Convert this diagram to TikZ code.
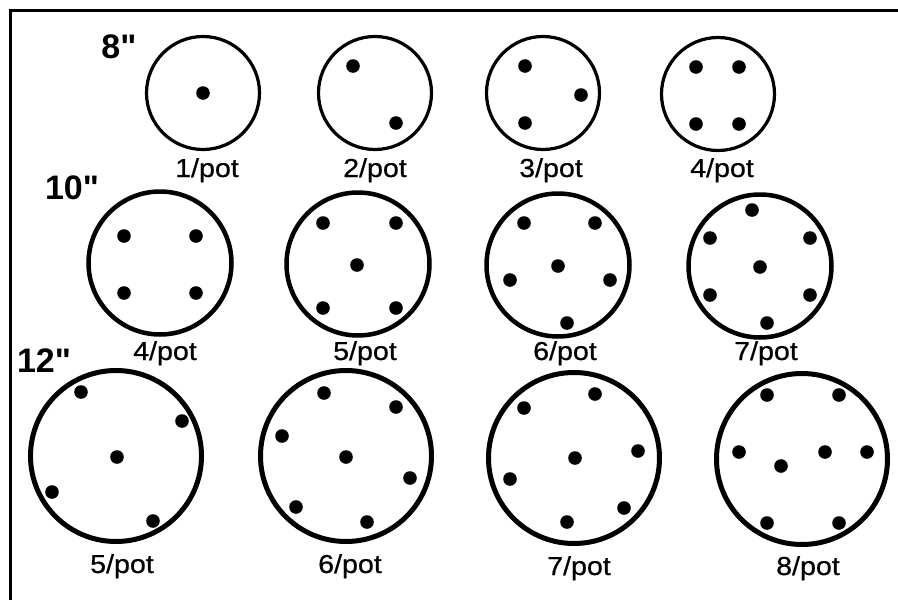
\documentclass[tikz,border=0pt]{standalone}
\usepackage{fontspec}
\setmainfont{Liberation Sans}
\newfontfamily\potfont[FakeStretch=1.1,FakeBold=0.6]{Liberation Sans}
\newfontfamily\sizefont[Ligatures=TeXOff]{Liberation Sans Bold}
\begin{document}
\begin{tikzpicture}[x=1pt,y=-1pt,
  pot8/.style={circle,draw,line width=3.2pt,minimum size=113pt,inner sep=0pt},
  pot10/.style={circle,draw,line width=4.5pt,minimum size=143pt,inner sep=0pt},
  pot12/.style={circle,draw,line width=5pt,minimum size=171pt,inner sep=0pt},
  potlabel/.style={anchor=base,inner sep=0pt,font=\potfont\fontsize{26}{28}\selectfont},
  sizelabel/.style={anchor=base,inner sep=0pt,font=\sizefont\fontsize{34}{36}\selectfont}]
\useasboundingbox (0,0) rectangle (898,600);
\fill[white] (0,0) rectangle (898,600);
% frame (top and left edges)
\draw[line width=3pt] (10.5,600) -- (10.5,10) -- (898,10);

% pot sizes
\node[sizelabel] (s8)  at (119,58)  {8"};
\node[sizelabel] (s10) at (72,199)  {10"};
\node[sizelabel] (s12) at (44,372)  {12"};

% 8-inch pots
\node[pot8] (a1) at (203,93) {};
\node[pot8] (a2) at (375,93) {};
\node[pot8] (a3) at (543,93) {};
\node[pot8] (a4) at (718,94) {};
\foreach \x/\y in {203/93, 353/66, 396/123, 525/66, 581/95, 525/123,
                   696/67, 739/67, 696/124, 739/124}
  \fill (\x,\y) circle (6.8pt);
\node[potlabel] (l1) at (207,177) {1/pot};
\node[potlabel] (l2) at (375,177) {2/pot};
\node[potlabel] (l3) at (551,177) {3/pot};
\node[potlabel] (l4) at (722,177) {4/pot};

% 10-inch pots
\node[pot10] (b1) at (160,263) {};
\node[pot10] (b2) at (358,264) {};
\node[pot10] (b3) at (558,265) {};
\node[pot10] (b4) at (760,266) {};
\foreach \x/\y in {124/236, 196/236, 124/293, 196/293,
                   323/223, 396/223, 357/265, 323/308, 396/308,
                   524/223, 595/223, 558/266, 510/280, 610/280, 567/323,
                   752/210, 710/238, 810/238, 760/267, 710/295, 810/295, 767/323}
  \fill (\x,\y) circle (6.8pt);
\node[potlabel] (l5) at (165,360) {4/pot};
\node[potlabel] (l6) at (365,360) {5/pot};
\node[potlabel] (l7) at (565,360) {6/pot};
\node[potlabel] (l8) at (766,360) {7/pot};

% 12-inch pots
\node[pot12] (c1) at (116,456) {};
\node[pot12] (c2) at (346,456) {};
\node[pot12] (c3) at (574,458) {};
\node[pot12] (c4) at (802,459) {};
\foreach \x/\y in {81/392, 182/421, 117/457, 52/492, 153/521,
                   324/393, 396/407, 282/436, 346/457, 410/478, 296/507, 367/522,
                   595/394, 524/408, 638/451, 575/458, 510/479, 624/508, 567/522,
                   767/395, 839/395, 739/452, 825/452, 867/452, 781/466, 767/523, 839/523}
  \fill (\x,\y) circle (6.8pt);
\node[potlabel] (l9)  at (122,573) {5/pot};
\node[potlabel] (l10) at (350,573) {6/pot};
\node[potlabel] (l11) at (579,575) {7/pot};
\node[potlabel] (l12) at (808,575) {8/pot};
\end{tikzpicture}
\end{document}
